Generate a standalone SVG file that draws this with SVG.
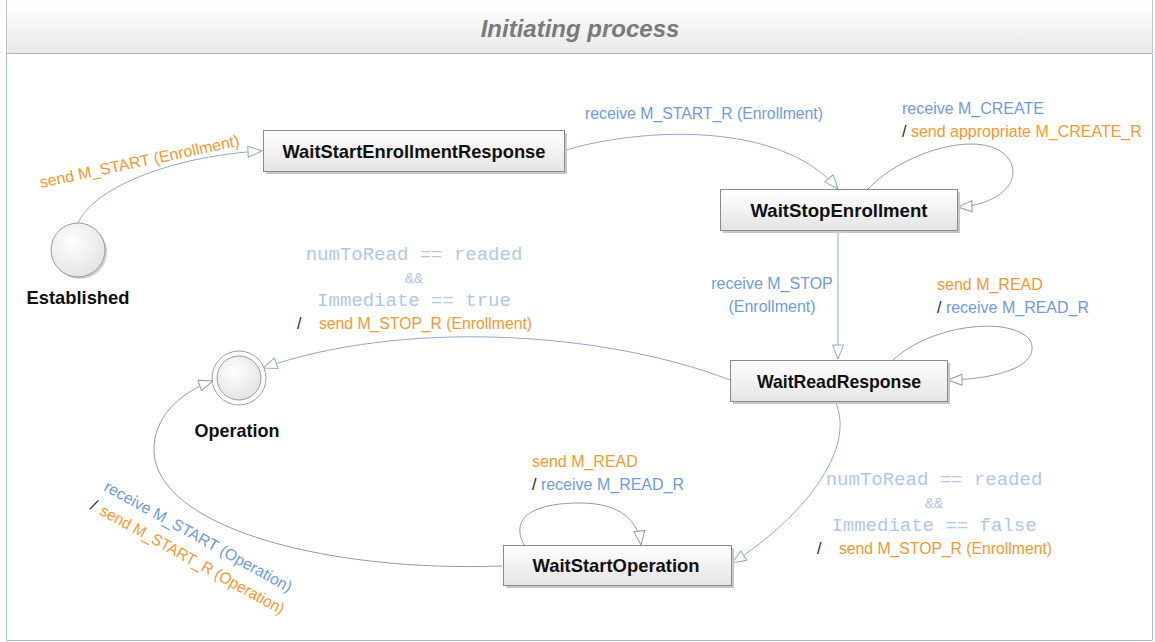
<svg xmlns="http://www.w3.org/2000/svg" width="1155" height="642" viewBox="0 0 1155 642">
<defs>
<linearGradient id="hdr" x1="0" y1="0" x2="0" y2="1"><stop offset="0" stop-color="#ffffff"/><stop offset="1" stop-color="#e9e9e9"/></linearGradient>
<linearGradient id="box" x1="0" y1="0" x2="0" y2="1"><stop offset="0" stop-color="#ffffff"/><stop offset="1" stop-color="#e4e4e4"/></linearGradient>
<radialGradient id="ball" cx="0.4" cy="0.35" r="0.7"><stop offset="0" stop-color="#ffffff"/><stop offset="1" stop-color="#e2e2e2"/></radialGradient>
<marker id="arB" markerUnits="userSpaceOnUse" markerWidth="16" markerHeight="14" refX="15" refY="6.5" orient="auto"><path d="M1,1 L15,6.5 L1,12 Z" fill="#fff" stroke="#8fa8cf" stroke-width="1"/></marker>
<marker id="arG" markerUnits="userSpaceOnUse" markerWidth="16" markerHeight="14" refX="15" refY="6.5" orient="auto"><path d="M1,1 L15,6.5 L1,12 Z" fill="#fff" stroke="#9a9a9a" stroke-width="1"/></marker>
</defs>
<style>
.frame{fill:none;stroke:#a9bcd6;stroke-width:1}
.node rect{fill:url(#box);stroke:#8a8a8a;stroke-width:1}
.node .sh{fill:#c8c8c8;stroke:none}
.nt{font-family:"Liberation Sans",Arial,sans-serif;font-weight:bold;font-size:19px;fill:#111;text-anchor:middle}
.ball{fill:url(#ball);stroke:#9a9a9a;stroke-width:1}
.cb{fill:none;stroke:#8fa8cf;stroke-width:1}
.cg{fill:none;stroke:#9a9a9a;stroke-width:1}
.lb{font-family:"Liberation Sans",Arial,sans-serif;font-size:16px}
.bl{fill:#6d9ce0}
.or{fill:#f6982d}
.sl{fill:#222}
.mono{font-family:"Liberation Mono","Courier New",monospace;font-size:19px;fill:#aec7ee;text-anchor:middle}
.amp{font-size:15px}
</style>
<rect x="6" y="0" width="1146" height="53" fill="url(#hdr)"/>
<line x1="6" y1="53.5" x2="1152" y2="53.5" stroke="#b5b5b5" stroke-width="1.2"/>
<line x1="6.5" y1="0" x2="6.5" y2="53" stroke="#c4c4c4"/>
<line x1="1152.5" y1="0" x2="1152.5" y2="53" stroke="#c4c4c4"/>
<path class="frame" d="M6.5,54 V640.5 H1152.5 V54"/>
<text x="580" y="37" font-family="Liberation Sans,Arial,sans-serif" font-size="24" font-weight="bold" font-style="italic" fill="#7a7a7a" text-anchor="middle">Initiating process</text>

<g id="connectors">
<path class="cb" d="M78,223 C95,185 180,155 262,151" marker-end="url(#arB)"/>
<path class="cb" d="M566,150 C640,128 780,120 838,189" marker-end="url(#arB)"/>
<path class="cg" d="M868,189 C905,150 985,128 1008,158 C1024,180 1000,205 958,207" marker-end="url(#arG)"/>
<path class="cb" d="M838,231 L838,359" marker-end="url(#arB)"/>
<path class="cg" d="M893,360 C930,325 1010,315 1030,340 C1042,365 1000,379 948,380" marker-end="url(#arG)"/>
<path class="cb" d="M730,380 C600,330 400,320 263,368" marker-end="url(#arB)"/>
<path class="cb" d="M835,401 C858,450 800,520 732,563" marker-end="url(#arB)"/>
<path class="cg" d="M524,545 C510,518 532,503 580,503 C620,503 638,520 641,545" marker-end="url(#arG)"/>
<path class="cg" d="M502,566 C330,572 170,530 155,460 C148,420 180,392 213,381" marker-end="url(#arG)"/>
</g>

<g id="labels">
<text class="lb or" transform="translate(41,188) rotate(-12)">send M_START (Enrollment)</text>
<text class="lb bl" x="585" y="119" textLength="238" lengthAdjust="spacingAndGlyphs">receive M_START_R (Enrollment)</text>
<text class="lb bl" x="902" y="114">receive M_CREATE</text>
<text class="lb" x="902" y="137"><tspan class="sl">/ </tspan><tspan class="or">send appropriate M_CREATE_R</tspan></text>
<text class="lb bl" x="772" y="289" text-anchor="middle">receive M_STOP</text>
<text class="lb bl" x="772" y="312" text-anchor="middle">(Enrollment)</text>
<text class="lb or" x="937" y="290">send M_READ</text>
<text class="lb" x="937" y="313"><tspan class="sl">/ </tspan><tspan class="bl">receive M_READ_R</tspan></text>
<text class="mono" x="414" y="260">numToRead == readed</text>
<text class="mono amp" x="414" y="283">&amp;&amp;</text>
<text class="mono" x="414" y="306">Immediate == true</text>
<text class="lb sl" x="297" y="329">/</text>
<text class="lb or" x="319" y="329" textLength="213" lengthAdjust="spacingAndGlyphs">send M_STOP_R (Enrollment)</text>
<text class="mono" x="934" y="485">numToRead == readed</text>
<text class="mono amp" x="934" y="508">&amp;&amp;</text>
<text class="mono" x="934" y="531">Immediate == false</text>
<text class="lb sl" x="817" y="554">/</text>
<text class="lb or" x="839" y="554" textLength="213" lengthAdjust="spacingAndGlyphs">send M_STOP_R (Enrollment)</text>
<text class="lb or" x="532" y="467">send M_READ</text>
<text class="lb" x="532" y="490"><tspan class="sl">/ </tspan><tspan class="bl">receive M_READ_R</tspan></text>
<g transform="translate(103,490) rotate(29)">
<text class="lb bl" x="0" y="0" textLength="212" lengthAdjust="spacingAndGlyphs">receive M_START (Operation)</text>
<text class="lb sl" x="-3" y="23">/</text>
<text class="lb or" x="8" y="23" textLength="208" lengthAdjust="spacingAndGlyphs">send M_START_R (Operation)</text>
</g>
</g>

<g id="Established">
<circle cx="80" cy="252" r="27" fill="#d0d0d0"/>
<circle class="ball" cx="78" cy="250" r="27"/>
<text class="nt" x="78" y="304" textLength="103" lengthAdjust="spacingAndGlyphs">Established</text>
</g>
<g id="Operation">
<circle cx="239" cy="378" r="27" fill="#fff" stroke="#a0a0a0"/>
<circle class="ball" cx="239" cy="378" r="22"/>
<text class="nt" x="237" y="437" textLength="85" lengthAdjust="spacingAndGlyphs">Operation</text>
</g>
<g id="WaitStartEnrollmentResponse" class="node">
<rect class="sh" x="266" y="133" width="301" height="41"/>
<rect x="263.5" y="130.5" width="301" height="41"/>
<text class="nt" x="414" y="158" textLength="263" lengthAdjust="spacingAndGlyphs">WaitStartEnrollmentResponse</text>
</g>
<g id="WaitStopEnrollment" class="node">
<rect class="sh" x="723" y="192" width="237" height="41"/>
<rect x="720.5" y="189.5" width="237" height="41"/>
<text class="nt" x="839" y="217" textLength="177" lengthAdjust="spacingAndGlyphs">WaitStopEnrollment</text>
</g>
<g id="WaitReadResponse" class="node">
<rect class="sh" x="733" y="363" width="217" height="41"/>
<rect x="730.5" y="360.5" width="217" height="41"/>
<text class="nt" x="839" y="388" textLength="164" lengthAdjust="spacingAndGlyphs">WaitReadResponse</text>
</g>
<g id="WaitStartOperation" class="node">
<rect class="sh" x="506" y="548" width="228" height="40"/>
<rect x="503.5" y="545.5" width="228" height="40"/>
<text class="nt" x="616" y="572" textLength="167" lengthAdjust="spacingAndGlyphs">WaitStartOperation</text>
</g>
</svg>
